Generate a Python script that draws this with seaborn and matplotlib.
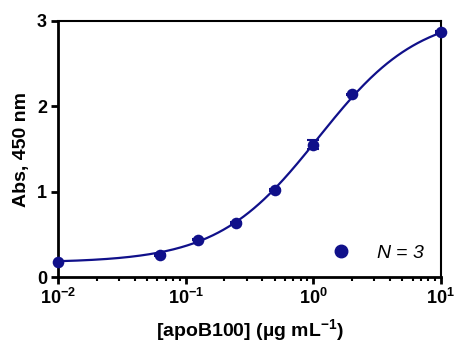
import numpy as np
import pandas as pd
import matplotlib
matplotlib.use("Agg")
import matplotlib.pyplot as plt
import seaborn as sns
from matplotlib.ticker import LogLocator, NullFormatter, FixedLocator
from matplotlib.lines import Line2D

# Data
conc = [0.01, 0.0625, 0.125, 0.25, 0.5, 1.0, 2.0, 10.0]
absorb = [0.176, 0.26, 0.44, 0.63, 1.02, 1.55, 2.14, 2.87]
abs_err = [0.0, 0.01, 0.01, 0.01, 0.01, 0.05, 0.01, 0.01]
xtick_vals = [0.01, 0.1, 1, 10]
xtick_labels = ["$\\mathbf{10^{-2}}$", "$\\mathbf{10^{-1}}$", "$\\mathbf{10^{0}}$", "$\\mathbf{10^{1}}$"]
ytick_vals = [0, 1, 2, 3]
# 4PL fit parameters (bottom, top, EC50, hill)
fit_bottom, fit_top, fit_ec50, fit_hill = 0.17, 3.1, 1.1, 1.1

sns.set_theme(style="white")
plt.rcParams['font.family'] = ['Liberation Sans', 'DejaVu Sans']
plt.rcParams['mathtext.fontset'] = 'custom'
plt.rcParams['mathtext.rm'] = 'Liberation Sans'
plt.rcParams['mathtext.bf'] = 'Liberation Sans:bold'
plt.rcParams['mathtext.it'] = 'Liberation Sans:italic'
plt.rcParams['text.color'] = 'black'
plt.rcParams['axes.labelcolor'] = 'black'

navy = "#10108a"
fig, ax = plt.subplots(figsize=(4.54, 3.43), dpi=100)
fig.subplots_adjust(left=0.128, right=0.971, top=0.939, bottom=0.192)

xf = np.logspace(-2, 1, 300)
yf = fit_bottom + (fit_top - fit_bottom) / (1 + (fit_ec50 / xf) ** fit_hill)
sns.lineplot(x=xf, y=yf, ax=ax, color=navy, lw=1.6, zorder=2)

ax.errorbar(conc, absorb, yerr=abs_err, fmt="none", ecolor=navy, elinewidth=1.5,
            capsize=4, capthick=1.5, zorder=3)
df = pd.DataFrame({"conc": conc, "abs": absorb})
sns.scatterplot(data=df, x="conc", y="abs", ax=ax, color=navy, s=70,
                edgecolor=navy, linewidth=0, zorder=4, clip_on=False)

ax.set_xscale("log")
ax.set_xlim(0.01, 10)
ax.set_ylim(0, 3)
ax.xaxis.set_major_locator(FixedLocator(xtick_vals))
ax.xaxis.set_minor_locator(LogLocator(base=10, subs=np.arange(2, 10)))
ax.xaxis.set_minor_formatter(NullFormatter())
ax.set_xticklabels(xtick_labels)
ax.set_yticks(ytick_vals)
ax.set_yticklabels([str(v) for v in ytick_vals])

for s in ["left", "bottom"]:
    ax.spines[s].set_linewidth(2.0)
for s in ["top", "right"]:
    ax.spines[s].set_linewidth(1.5)
for s in ax.spines.values():
    s.set_color("black")

ax.tick_params(axis="both", which="major", direction="out", length=5, width=2,
               colors="black", labelsize=13, bottom=True, left=True, pad=3)
ax.tick_params(axis="x", which="minor", direction="out", length=3, width=1.5,
               colors="black", bottom=True)
for lab in ax.get_yticklabels() + ax.get_xticklabels():
    lab.set_fontweight("bold")
    lab.set_color("black")

ax.set_xlabel("[apoB100] (µg mL$^{\\mathbf{-1}}$)", fontsize=14, fontweight="bold",
              labelpad=6, color="black")
ax.set_ylabel("Abs, 450 nm", fontsize=14, fontweight="bold", labelpad=5, color="black")

# legend
h = Line2D([], [], marker="o", color=navy, ls="none", markersize=9)
leg = ax.legend([h], ["$\\mathit{N}$ = 3"], loc="lower right", frameon=False,
                handletextpad=0.8, borderaxespad=0.4, fontsize=14)
for t in leg.get_texts():
    t.set_fontstyle("italic")
    t.set_color("black")

fig.savefig("out.png", dpi=100)
